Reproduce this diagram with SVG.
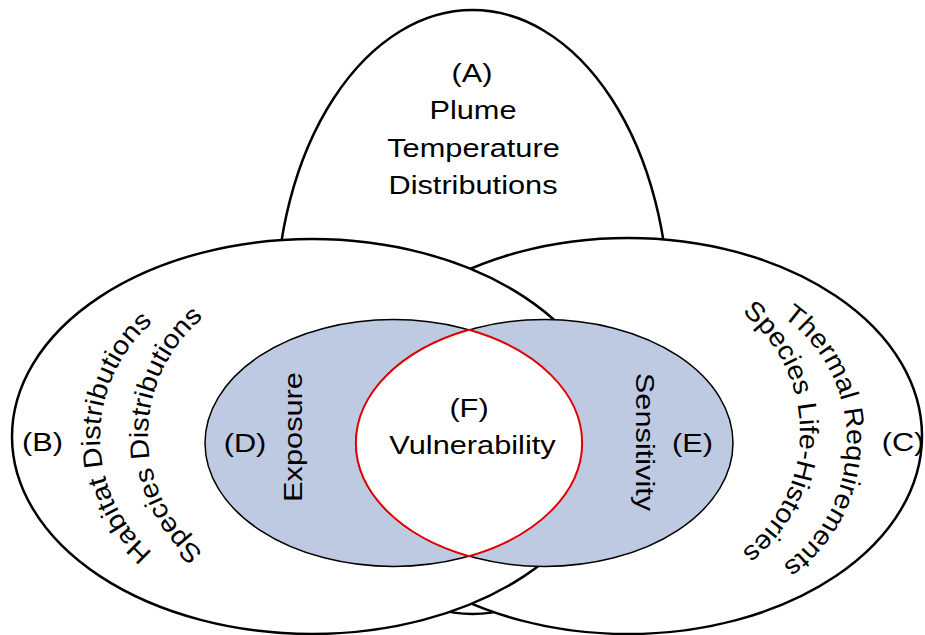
<svg xmlns="http://www.w3.org/2000/svg" xmlns:xlink="http://www.w3.org/1999/xlink" width="925" height="635" viewBox="0 0 925 635">
<style>
.big{fill:#fff;stroke:#000;stroke-width:2.5}
.inner{fill:#BECAE2;stroke:#000;stroke-width:1.5}
.lens{fill:#fff;stroke:#E00000;stroke-width:2}
text{font-family:"Liberation Sans",Arial,sans-serif;font-size:26.5px;fill:#000}
.c{text-anchor:middle}
</style>
<defs>
<path id="pB1" d="M200,580.3 A152,152 0 0 1 200,294.7"/>
<path id="pB2" d="M248,577.8 A152,152 0 0 1 248,292.2"/>
<path id="pC1" d="M747,298.2 A152,152 0 0 1 747,583.8"/>
<path id="pC2" d="M700,289.2 A152,152 0 0 1 700,574.8"/>
</defs>
<rect width="925" height="635" fill="#fff"/>
<g id="nodeA">
<ellipse class="big" cx="472.5" cy="312" rx="196.5" ry="302"/>
</g>
<g id="nodeC">
<ellipse class="big" cx="628" cy="436" rx="294" ry="198"/>
</g>
<g id="nodeB">
<ellipse class="big" cx="312" cy="436.5" rx="300" ry="197.5"/>
</g>
<g id="nodeD">
<ellipse class="inner" cx="393.5" cy="443" rx="188.5" ry="123.5"/>
</g>
<g id="nodeE">
<ellipse class="inner" cx="544.5" cy="443" rx="188.5" ry="123.5"/>
</g>
<g id="nodeF">
<path class="lens" d="M469,329.8 A188.5,123.5 0 0 1 469,556.2 A188.5,123.5 0 0 1 469,329.8 Z"/>
</g>
<g id="connectors"></g>
<g id="labelsA">
<text class="c" transform="translate(472,81.5) scale(1.16,1)">(A)</text>
<text class="c" transform="translate(473,119) scale(1.16,1)">Plume</text>
<text class="c" transform="translate(473.5,157.3) scale(1.16,1)">Temperature</text>
<text class="c" transform="translate(473,194.3) scale(1.16,1)">Distributions</text>
</g>
<g id="labelsB">
<text class="c" transform="translate(42.5,451) scale(1.16,1)">(B)</text>
<text class="c"><textPath xlink:href="#pB1" href="#pB1" startOffset="50%" textLength="261" lengthAdjust="spacingAndGlyphs">Habitat Distributions</textPath></text>
<text class="c"><textPath xlink:href="#pB2" href="#pB2" startOffset="50%" textLength="268" lengthAdjust="spacingAndGlyphs">Species Distributions</textPath></text>
</g>
<g id="labelsC">
<text class="c" transform="translate(903,451) scale(1.16,1)">(C)</text>
<text class="c"><textPath xlink:href="#pC1" href="#pC1" startOffset="50%" textLength="290" lengthAdjust="spacingAndGlyphs">Thermal Requirements</textPath></text>
<text class="c"><textPath xlink:href="#pC2" href="#pC2" startOffset="50%" textLength="275" lengthAdjust="spacingAndGlyphs">Species Life-Histories</textPath></text>
</g>
<g id="labelsD">
<text class="c" transform="translate(245,452) scale(1.16,1)">(D)</text>
<text class="c" transform="translate(302,437) rotate(-90) scale(1.16,1)">Exposure</text>
</g>
<g id="labelsE">
<text class="c" transform="translate(692.5,452) scale(1.16,1)">(E)</text>
<text class="c" transform="translate(636,442) rotate(90) scale(1.16,1)">Sensitivity</text>
</g>
<g id="labelsF">
<text class="c" transform="translate(469,417) scale(1.16,1)">(F)</text>
<text class="c" transform="translate(472.5,454) scale(1.16,1)">Vulnerability</text>
</g>
</svg>
